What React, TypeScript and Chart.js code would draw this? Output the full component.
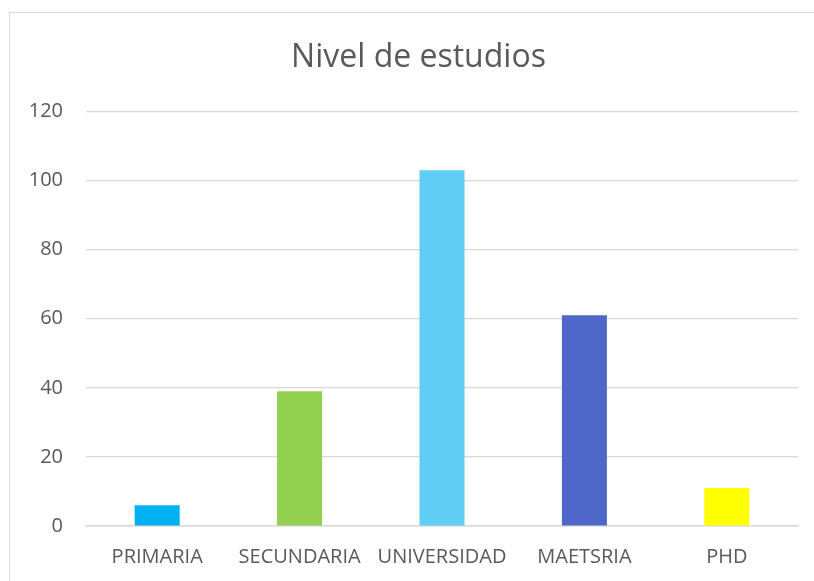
import React, { useEffect, useRef } from "react";
import { Chart, registerables } from "chart.js";

Chart.register(...registerables);

const categories = ["PRIMARIA", "SECUNDARIA", "UNIVERSIDAD", "MAETSRIA", "PHD"];
const values = [6, 39, 103, 61, 11];
const barColors = ["#00B0F0", "#92D050", "#5FCDF4", "#4F67C8", "#FFFF00"];
const titleText = "Nivel de estudios";

const FONT = "'Open Sans', 'Liberation Sans', sans-serif";
const TEXT = "#595959";
const GRID = "#D9D9D9";

const shiftTitle = {
  id: "shiftTitle",
  afterLayout(chart: any) {
    const tb = chart.titleBlock;
    if (tb) {
      tb.left = 39;
      tb.right = 798;
      tb.width = tb.right - tb.left;
    }
  },
};

export default function App() {
  const ref = useRef<HTMLCanvasElement | null>(null);

  useEffect(() => {
    if (!ref.current) return;
    const chart = new Chart(ref.current, {
      type: "bar",
      data: {
        labels: categories,
        datasets: [
          {
            data: values,
            backgroundColor: barColors,
            borderWidth: 0,
            barPercentage: 0.316,
            categoryPercentage: 1,
          },
        ],
      },
      options: {
        animation: false,
        responsive: false,
        maintainAspectRatio: false,
        devicePixelRatio: 1,
        layout: { padding: { left: 0, right: 16, top: 0, bottom: 0 } },
        plugins: {
          legend: { display: false },
          tooltip: { enabled: false },
          title: {
            display: true,
            text: titleText,
            color: TEXT,
            font: { family: FONT, size: 32, weight: "normal", lineHeight: 1.2 },
            padding: { top: 39, bottom: 34 },
          },
        },
        scales: {
          x: {
            grid: { display: false, drawTicks: false },
            border: { display: true, color: GRID, width: 1.5 },
            ticks: {
              color: TEXT,
              font: { family: FONT, size: 20 },
              padding: 19,
              maxRotation: 0,
              autoSkip: false,
            },
            afterFit: (s: any) => {
              s.height = 55;
            },
          },
          y: {
            min: 0,
            max: 120,
            grid: { color: GRID, lineWidth: 1.2, drawTicks: false },
            border: { display: false },
            ticks: {
              stepSize: 20,
              color: TEXT,
              font: { family: FONT, size: 20 },
              padding: 23,
            },
            afterFit: (s: any) => {
              s.width = 86;
            },
          },
        },
      },
      plugins: [shiftTitle],
    });
    return () => chart.destroy();
  }, []);

  return (
    <div
      style={{
        position: "fixed",
        left: 0,
        top: 0,
        width: 814,
        height: 581,
        background: "#fff",
        overflow: "hidden",
      }}
    >
      <div
        style={{
          position: "absolute",
          left: 9,
          top: 12,
          width: 900,
          height: 700,
          border: "1.5px solid #D9D9D9",
          boxSizing: "border-box",
        }}
      />
      <canvas
        ref={ref}
        width={814}
        height={581}
        style={{ position: "absolute", left: 0, top: 0, width: 814, height: 581 }}
      />
    </div>
  );
}
